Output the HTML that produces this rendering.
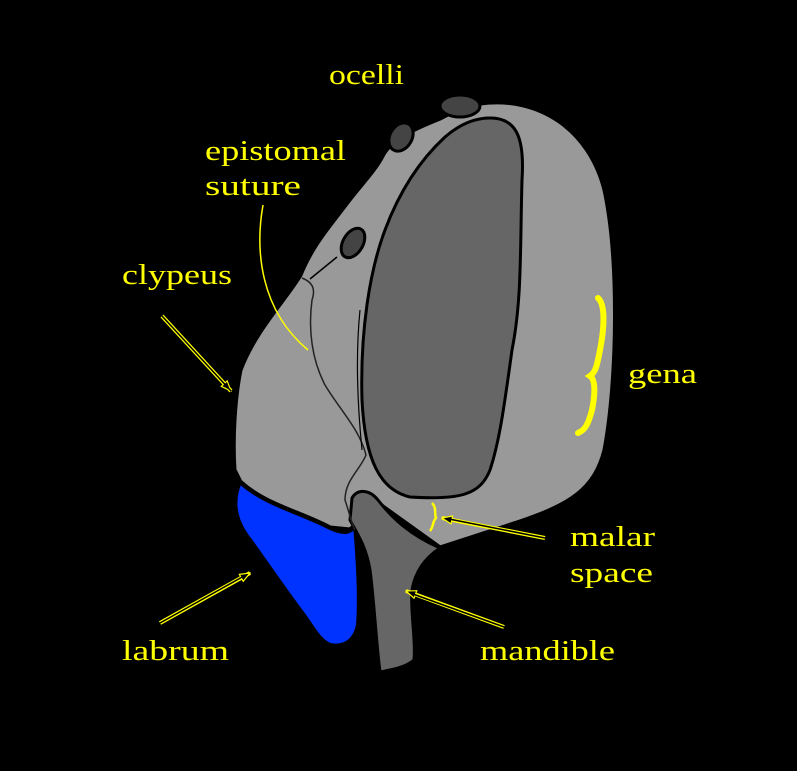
<!DOCTYPE html>
<html><head><style>body{margin:0;background:#000}svg{display:block}text{font-family:"Liberation Serif",serif;font-size:29px;fill:#ffff00}</style></head>
<body>
<svg width="797" height="771" viewBox="0 0 797 771">
<rect width="797" height="771" fill="#000"/>
<defs><marker id="a" markerWidth="12" markerHeight="10" refX="11" refY="5" orient="auto" markerUnits="userSpaceOnUse"><path d="M1,1 L11,5 L1,9 Z" fill="#000" stroke="#ff0" stroke-width="1.2"/></marker></defs>
<!-- head -->
<path d="M480,103 C540,95 590,130 605,190 C620,260 618,380 605,450 C595,490 570,505 520,522 L440,548 L380,505 L350,530 L330,528 C300,512 265,505 240,482 L234,470 C232,440 234,400 240,370 C255,330 285,300 300,275 C312,245 330,225 345,205 C360,185 375,170 382,156 C390,140 410,130 440,118 C455,110 470,104 480,103 Z" fill="#999" stroke="#000" stroke-width="5"/>
<!-- labrum -->
<path d="M240,482 C265,505 300,512 330,528 C345,535 352,532 355,525 C358,560 360,600 358,625 C355,640 345,648 330,645 C318,640 312,625 300,610 C285,590 268,565 250,540 C238,525 230,505 240,482 Z" fill="#0033ff" stroke="#000" stroke-width="4"/>
<line x1="361" y1="562" x2="361" y2="628" stroke="#000" stroke-width="3"/>
<!-- mandible -->
<path d="M352,498 C358,488 370,490 378,500 C392,518 410,535 440,548 C425,558 415,572 412,590 C410,610 416,640 414,660 C405,668 390,670 380,672 C376,640 374,600 370,570 C366,545 355,530 350,520 Z" fill="#666" stroke="#000" stroke-width="3"/>
<!-- clypeus border -->
<path d="M302,278 C312,282 316,288 312,300 C308,330 312,360 325,385 C340,410 360,430 366,455 C360,470 345,480 345,500 C350,515 352,525 355,530" fill="none" stroke="#222" stroke-width="1.5"/>
<line x1="310" y1="279" x2="337" y2="257" stroke="#000" stroke-width="1.5"/>
<path d="M360,310 C355,360 358,410 362,450" fill="none" stroke="#000" stroke-width="1.2"/>
<!-- eye -->
<path d="M490,118 C515,118 525,135 522,180 C520,250 522,300 512,350 C505,400 500,440 490,470 C480,495 460,500 410,497 C380,490 365,460 362,400 C360,330 370,270 385,230 C400,190 420,160 445,137 C460,124 475,118 490,118 Z" fill="#666" stroke="#000" stroke-width="3"/>
<!-- ocelli -->
<ellipse cx="460" cy="106" rx="20" ry="11" fill="#444" stroke="#000" stroke-width="3"/>
<ellipse cx="401" cy="137" rx="11" ry="15" transform="rotate(30 401 137)" fill="#444" stroke="#000" stroke-width="3"/>
<ellipse cx="353" cy="243" rx="10" ry="16" transform="rotate(30 353 243)" fill="#444" stroke="#000" stroke-width="3"/>
<!-- braces -->
<path d="M598,298 C606,305 604,330 600,350 C597,365 596,372 590,376 C596,380 595,395 592,410 C588,425 585,430 578,433" fill="none" stroke="#ff0" stroke-width="6" stroke-linecap="round"/>
<path d="M432,503 C437,508 434,513 436,518 C432,522 434,526 430,531" fill="none" stroke="#ff0" stroke-width="2.5"/>
<!-- leaders -->
<path d="M263,205 C255,250 260,310 308,350" fill="none" stroke="#ff0" stroke-width="1.5"/>
<line x1="162" y1="316" x2="231" y2="391" stroke="#ff0" stroke-width="4" marker-end="url(#a)"/>
<line x1="162" y1="316" x2="231" y2="391" stroke="#000" stroke-width="1.5"/>
<line x1="160" y1="623" x2="250" y2="573" stroke="#ff0" stroke-width="4" marker-end="url(#a)"/>
<line x1="160" y1="623" x2="244" y2="576" stroke="#000" stroke-width="1.5"/>
<line x1="545" y1="538" x2="442" y2="518" stroke="#ff0" stroke-width="4" marker-end="url(#a)"/>
<line x1="545" y1="538" x2="449" y2="519" stroke="#000" stroke-width="1.5"/>
<line x1="504" y1="627" x2="406" y2="591" stroke="#ff0" stroke-width="4" marker-end="url(#a)"/>
<line x1="504" y1="627" x2="413" y2="594" stroke="#000" stroke-width="1.5"/>
<text x="329" y="84" textLength="75" lengthAdjust="spacingAndGlyphs">ocelli</text>
<text x="205" y="160" textLength="141" lengthAdjust="spacingAndGlyphs">epistomal</text>
<text x="205" y="195" textLength="96" lengthAdjust="spacingAndGlyphs">suture</text>
<text x="122" y="284" textLength="110" lengthAdjust="spacingAndGlyphs">clypeus</text>
<text x="628" y="383" textLength="69" lengthAdjust="spacingAndGlyphs">gena</text>
<text x="570" y="546" textLength="85" lengthAdjust="spacingAndGlyphs">malar</text>
<text x="570" y="582" textLength="83" lengthAdjust="spacingAndGlyphs">space</text>
<text x="122" y="660" textLength="107" lengthAdjust="spacingAndGlyphs">labrum</text>
<text x="480" y="660" textLength="135" lengthAdjust="spacingAndGlyphs">mandible</text>
</svg>
</body></html>
